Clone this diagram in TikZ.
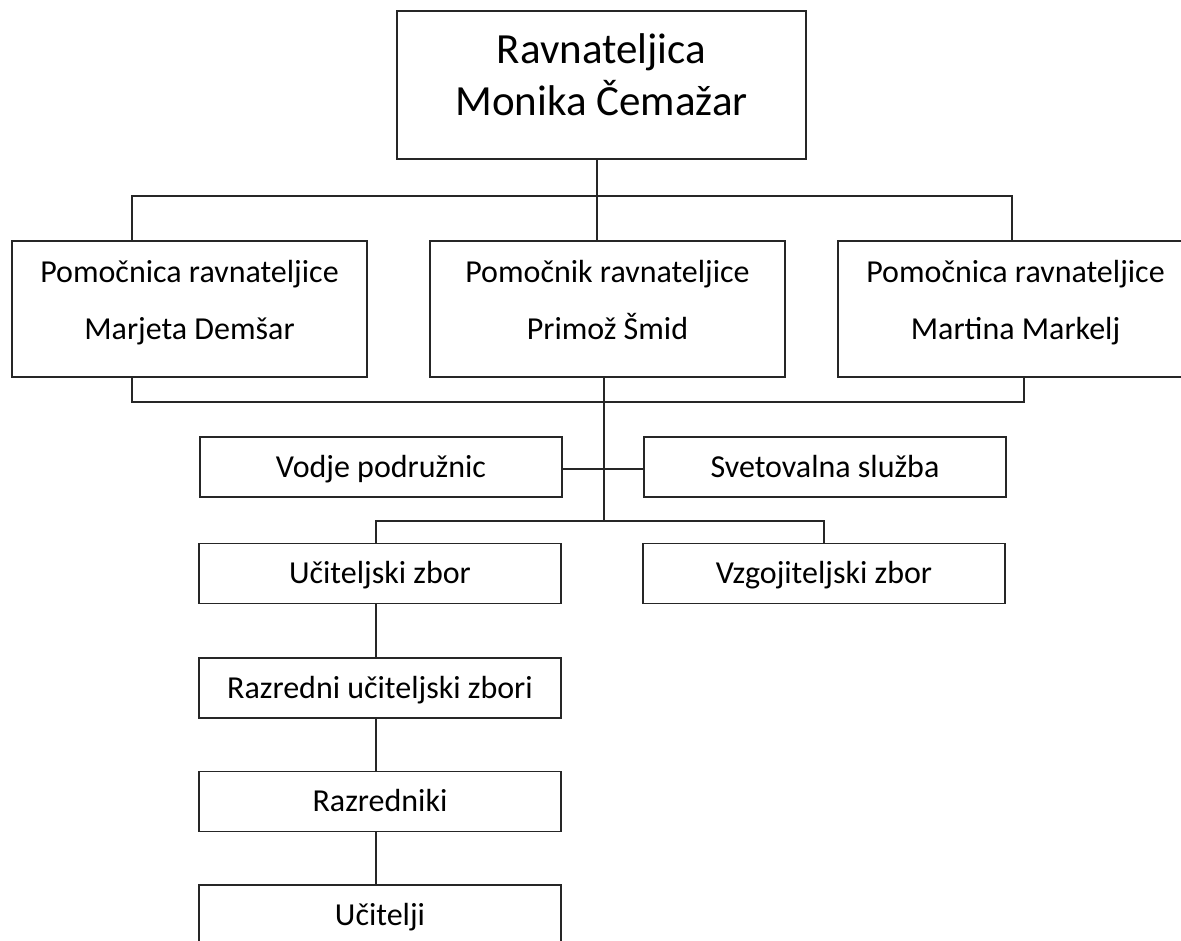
\documentclass[tikz,border=0pt]{standalone}
\usepackage{fontspec}
\setmainfont{Carlito}
\begin{document}
\begin{tikzpicture}[x=1pt,y=-1pt,
  box/.style={draw=black!85, line width=1.1pt, rectangle, inner sep=0pt, align=center},
  onebox/.style={box, font=\fontsize{32}{57}\selectfont, text height=20.2pt, text depth=0pt},
  twobox/.style={box, font=\fontsize{32}{57}\selectfont, text height=77.2pt, text depth=17.2pt},
  topbox/.style={box, font=\fontsize{43}{52}\selectfont, text height=79.2pt, text depth=19.2pt},
  conn/.style={draw=black!85, line width=1.1pt}]
\useasboundingbox (0,0) rectangle (1181,940);
\clip (0,0) rectangle (1181,940);
\fill[white] (0,0) rectangle (1181,940);

\node[topbox, minimum width=409pt, minimum height=148pt] (T) at (601.5,85) {Ravnateljica\\Monika Čemažar};

\node[twobox, minimum width=355pt, minimum height=136pt] (A) at (189.5,309) {Pomočnica ravnateljice\\Marjeta Demšar};
\node[twobox, minimum width=355pt, minimum height=136pt] (B) at (607.5,309) {Pomočnik ravnateljice\\Primož Šmid};
\node[twobox, minimum width=355pt, minimum height=136pt] (C) at (1015.5,309) {Pomočnica ravnateljice\\Martina Markelj};

\node[onebox, minimum width=362pt, minimum height=60pt] (V) at (381,467) {Vodje podružnic};
\node[onebox, minimum width=362pt, minimum height=60pt] (S) at (825,467) {Svetovalna služba};

\node[onebox, minimum width=362pt, minimum height=60pt] (U) at (380,573.5) {Učiteljski zbor};
\node[onebox, minimum width=362pt, minimum height=60pt] (Z) at (824,573.5) {Vzgojiteljski zbor};

\node[onebox, minimum width=362pt, minimum height=60pt] (R1) at (380,688) {Razredni učiteljski zbori};
\node[onebox, minimum width=362pt, minimum height=60pt] (R2) at (380,801.5) {Razredniki};
\node[onebox, minimum width=362pt, minimum height=60pt] (R3) at (380,915) {Učitelji};

\coordinate (bus1) at (597,196);
\coordinate (bus2) at (604,402);
\coordinate (bus3) at (604,521);

\draw[conn] ([xshift=-4.5pt]T.south) -- ([xshift=-10.5pt]B.north);
\draw[conn] ([xshift=-57.5pt]A.north) |- (bus1) -| ([xshift=-3.5pt]C.north);
\draw[conn] ([xshift=-57.5pt]A.south) |- (bus2) -| ([xshift=8.5pt]C.south);
\draw[conn] ([xshift=-3.5pt]B.south) -- (bus3);
\draw[conn] ([yshift=-2pt]V.east) -- ([yshift=-2pt]S.west);
\draw[conn] ([xshift=-4pt]U.north) |- (bus3) -| (Z.north);
\draw[conn] ([xshift=-4pt]U.south) -- ([xshift=-4pt]R1.north);
\draw[conn] ([xshift=-4pt]R1.south) -- ([xshift=-4pt]R2.north);
\draw[conn] ([xshift=-4pt]R2.south) -- ([xshift=-4pt]R3.north);
\end{tikzpicture}
\end{document}
